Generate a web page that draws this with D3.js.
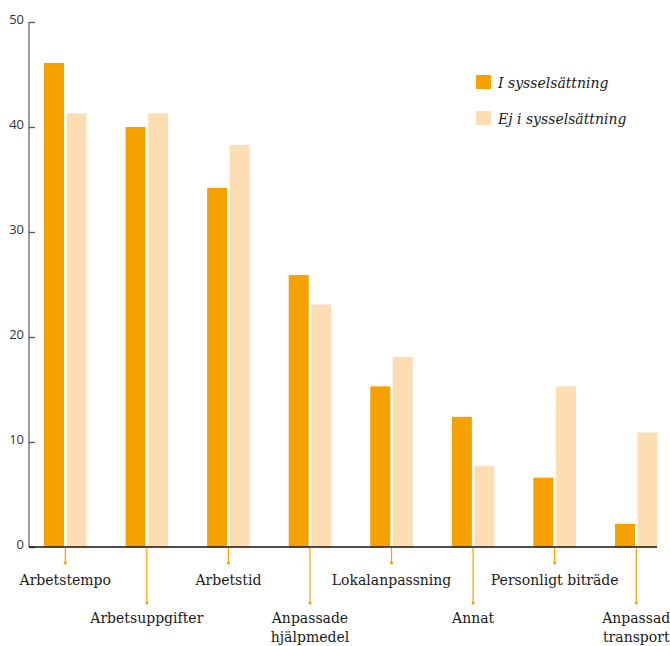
<!DOCTYPE html>
<html>
<head>
<meta charset="utf-8">
<script src="https://cdn.jsdelivr.net/npm/d3@7"></script>
<style>
  html, body { margin: 0; padding: 0; background: #fff; }
  svg { display: block; }
</style>
</head>
<body>
<svg id="chart" width="670" height="646"></svg>
<script>
// Anpassningar på arbetsplatsen, procent
const categories = [
  "Arbetstempo", "Arbetsuppgifter", "Arbetstid", "Anpassade hjälpmedel",
  "Lokalanpassning", "Annat", "Personligt biträde", "Anpassad transport"
];
const labelLines = [
  ["Arbetstempo"], ["Arbetsuppgifter"], ["Arbetstid"], ["Anpassade", "hjälpmedel"],
  ["Lokalanpassning"], ["Annat"], ["Personligt biträde"], ["Anpassad", "transport"]
];
const seriesNames = ["I sysselsättning", "Ej i sysselsättning"];
const iSysselsattning = [46.1, 40.0, 34.2, 25.9, 15.3, 12.4, 6.6, 2.2];
const ejISysselsattning = [41.3, 41.3, 38.3, 23.1, 18.1, 7.7, 15.3, 10.9];
const yTicks = [0, 10, 20, 30, 40, 50];

const colors = ["#f5a200", "#fddeb2"];
const svg = d3.select("#chart");

const y = d3.scaleLinear().domain([0, 50]).range([547, 22]);
const x0 = d3.scaleBand().domain(categories).range([44, 657.5])
  .paddingInner(0.479).paddingOuter(0);
const x1 = d3.scaleBand().domain(seriesNames).range([0, x0.bandwidth()])
  .paddingInner(0.11).paddingOuter(0);

const rows = categories.map((c, i) => ({
  cat: c, lines: labelLines[i],
  values: [iSysselsattning[i], ejISysselsattning[i]]
}));

// Bars
const g = svg.append("g");
g.selectAll("g.grp").data(rows).join("g")
  .attr("class", "grp")
  .attr("transform", d => `translate(${x0(d.cat)},0)`)
  .selectAll("rect")
  .data(d => d.values.map((v, k) => ({ name: seriesNames[k], v, k })))
  .join("rect")
  .attr("x", d => x1(d.name))
  .attr("width", x1.bandwidth())
  .attr("y", d => y(d.v))
  .attr("height", d => y(0) - y(d.v))
  .attr("fill", d => colors[d.k]);

// Y axis
const yAxis = d3.axisRight(y).tickValues(yTicks).tickSize(6).tickPadding(0).tickFormat(d3.format("d"));
const ya = svg.append("g").attr("transform", "translate(29,0)").call(yAxis);
ya.select(".domain").attr("stroke", "#666").attr("stroke-width", 1.3)
  .attr("d", `M0,${y(50)}V${y(0)}`);
ya.selectAll(".tick line").attr("stroke", "#555").attr("stroke-width", 1.3);
ya.selectAll(".tick text")
  .attr("x", -5).attr("text-anchor", "end").attr("dy", "0.1em")
  .attr("fill", "#333")
  .style("font-family", "'Open Sans', sans-serif").style("font-size", "13px");

// Baseline
svg.append("line")
  .attr("x1", 29).attr("x2", 657)
  .attr("y1", y(0)).attr("y2", y(0))
  .attr("stroke", "#111").attr("stroke-width", 1.5);

// Category leader lines and labels
const lab = svg.append("g").selectAll("g").data(rows).join("g")
  .attr("transform", d => `translate(${x0(d.cat) + x0.bandwidth() / 2},0)`);
const lineEnd = (d, i) => (i % 2 === 0 ? 563 : 603);
lab.append("line")
  .attr("y1", y(0) + 1).attr("y2", lineEnd)
  .attr("stroke", colors[0]).attr("stroke-width", 1.2);
lab.append("circle")
  .attr("cy", lineEnd).attr("r", 1.6).attr("fill", colors[0]);
lab.append("text")
  .attr("text-anchor", "middle")
  .attr("fill", "#1a1a1a")
  .style("font-family", "'DejaVu Serif', serif").style("font-size", "14px")
  .each(function (d, i) {
    const base = i % 2 === 0 ? 585 : 623;
    d3.select(this).selectAll("tspan").data(d.lines).join("tspan")
      .attr("x", 0).attr("y", (t, j) => base + j * 19).text(t => t);
  });

// Legend
const leg = svg.append("g").selectAll("g").data(seriesNames).join("g")
  .attr("transform", (d, i) => `translate(476,${75 + i * 36})`);
leg.append("rect").attr("width", 15).attr("height", 14)
  .attr("fill", (d, i) => colors[i]);
leg.append("text")
  .attr("x", 22).attr("y", 13)
  .attr("fill", "#1a1a1a")
  .style("font-family", "'DejaVu Serif', serif").style("font-size", "14px")
  .style("font-style", "italic")
  .text(d => d);
</script>
</body>
</html>
